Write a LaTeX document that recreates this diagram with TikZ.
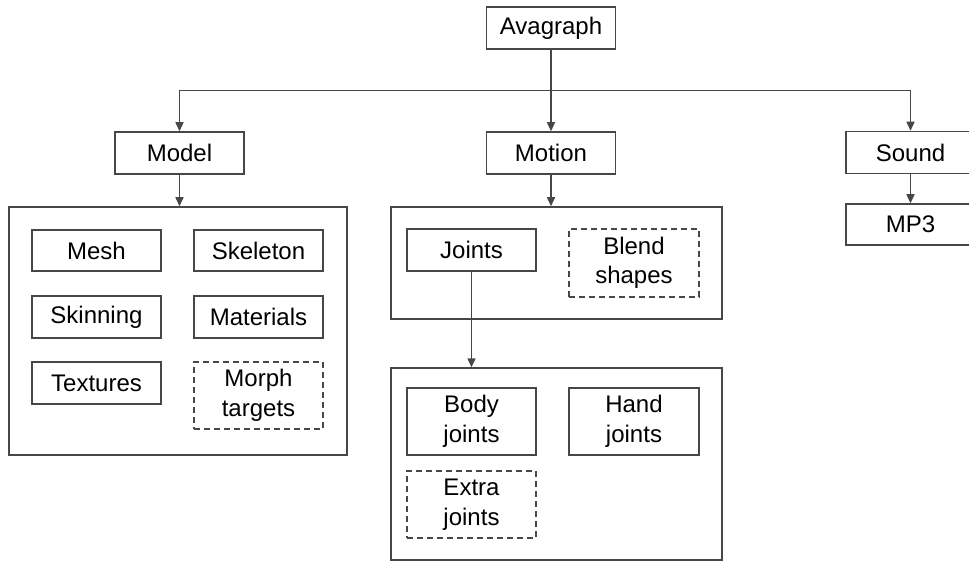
\documentclass[tikz,border=0pt]{standalone}
\usepackage{fontspec}
\setmainfont{Liberation Sans}
\usetikzlibrary{arrows.meta}

\tikzset{
  box/.style={draw=black!72, line width=1.5pt, rectangle, inner sep=0pt,
              align=center, font=\fontsize{24}{29.5}\selectfont, text=black},
  optbox/.style={box, dashed, dash pattern=on 6pt off 4pt},
  group/.style={draw=black!72, line width=1.5pt, rectangle, inner sep=0pt},
  link/.style={draw=black!72, line width=1.5pt,
               -{Triangle[length=9pt,width=8pt]}},
}

\begin{document}
\begin{tikzpicture}[x=1pt,y=-1pt]
  \useasboundingbox (0,0) rectangle (969,561);

  % top level
  \node[box, minimum width=129pt, minimum height=42pt] (ava) at (551,28) {Avagraph};
  \node[box, minimum width=129pt, minimum height=42pt] (model) at (179.5,153) {Model};
  \node[box, minimum width=129pt, minimum height=42pt] (motion) at (551,153) {Motion};
  \node[box, minimum width=129pt, minimum height=42pt] (sound) at (910.5,152.5) {Sound};
  \node[box, minimum width=129pt, minimum height=41pt] (mp3) at (910.5,224.5) {MP3};

  % model contents
  \node[group, minimum width=338pt, minimum height=248pt] (modelgrp) at (178,331) {};
  \node[box, minimum width=129pt, minimum height=41pt] (mesh) at (96.5,250.5) {Mesh};
  \node[box, minimum width=129pt, minimum height=41pt] (skeleton) at (258.5,250.5) {Skeleton};
  \node[box, minimum width=129pt, minimum height=42pt] (skinning) at (96.5,317) {Skinning};
  \node[box, minimum width=129pt, minimum height=42pt] (materials) at (258.5,317) {Materials};
  \node[box, minimum width=129pt, minimum height=42pt] (textures) at (96.5,383) {Textures};
  \node[optbox, minimum width=129pt, minimum height=67pt] (morph) at (258.5,395.5) {Morph\\targets};

  % motion contents
  \node[group, minimum width=331pt, minimum height=112pt] (motiongrp) at (556.5,263) {};
  \node[box, minimum width=129pt, minimum height=42pt] (joints) at (471.5,250) {Joints};
  \node[optbox, minimum width=130pt, minimum height=68pt] (blend) at (634,263) {Blend\\shapes};

  % joint contents
  \node[group, minimum width=331pt, minimum height=192pt] (jointgrp) at (556.5,464) {};
  \node[box, minimum width=129pt, minimum height=67pt] (body) at (471.5,421.5) {Body\\joints};
  \node[box, minimum width=130pt, minimum height=67pt] (hand) at (634,421.5) {Hand\\joints};
  \node[optbox, minimum width=129pt, minimum height=67pt] (extra) at (471.5,504.5) {Extra\\joints};

  % connectors
  \coordinate (split) at (551,90.5);
  \draw[link] (ava) -- (motion);
  \draw[link] (split) -| (model.north);
  \draw[link] (split) -| (sound.north);
  \draw[link] (model) -- (modelgrp.north -| model);
  \draw[link] (motion) -- (motiongrp.north -| motion);
  \draw[link] (sound) -- (mp3);
  \draw[link] (joints) -- (jointgrp.north -| joints);
\end{tikzpicture}
\end{document}
